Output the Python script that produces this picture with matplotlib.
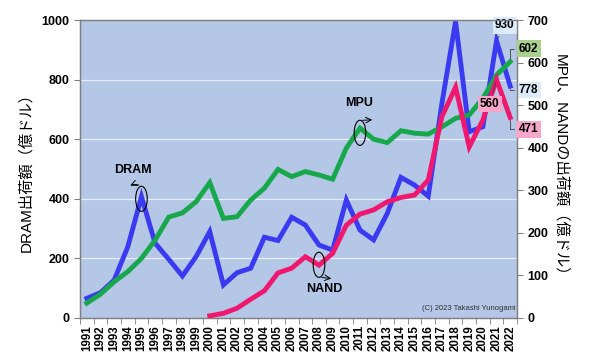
import numpy as np
import matplotlib.pyplot as plt
from matplotlib.patches import Ellipse

plt.rcParams['font.family'] = ['Liberation Sans', 'Noto Sans CJK JP', 'DejaVu Sans']

years = list(range(1991, 2023))

# DRAM (left axis, 億ドル)
dram = [66, 85, 127, 239, 407, 251, 197, 141, 206, 290,
        111, 152, 167, 271, 260, 338, 312, 245, 228, 396,
        295, 262, 351, 472, 446, 409, 720, 995, 625, 642,
        930, 778]

# MPU (right axis)
mpu = [35, 56, 85, 109, 140, 183, 237, 247, 273, 318,
       234, 238, 277, 305, 349, 332, 344, 336, 326, 399,
       446, 420, 412, 440, 434, 432, 449, 469, 477, 516,
       571, 602]

# NAND (right axis), from 2000
nand_years = list(range(2000, 2023))
nand = [5, 11, 23, 44, 64, 106, 117, 144, 124, 152,
        218, 244, 254, 273, 283, 289, 324, 473, 542, 402,
        465, 560, 471]

c_bg = '#b4c7e7'
c_dram = '#3a3af0'
c_mpu = '#18a84c'
c_nand = '#f0186e'

x = np.arange(len(years))
xn = np.array([years.index(y) for y in nand_years])

fig = plt.figure(figsize=(5.9, 3.54), dpi=100)
ax = fig.add_axes([0.1356, 0.1017, 0.7407, 0.8418])
ax.set_facecolor(c_bg)
ax2 = ax.twinx()

ax.plot(x, dram, color=c_dram, lw=3.5, solid_joinstyle='miter', zorder=3)
ax2.plot(x, mpu, color=c_mpu, lw=3.5, solid_joinstyle='miter', zorder=3)
ax2.plot(xn, nand, color=c_nand, lw=3.5, solid_joinstyle='miter', zorder=4)

ax.set_xlim(-0.5, len(years) - 0.5)
ax.set_ylim(0, 1000)
ax2.set_ylim(0, 700)
ax.set_yticks(range(0, 1001, 200))
ax2.set_yticks(range(0, 701, 100))

for v in range(200, 1000, 200):
    ax.axhline(v, color='#e8eef8', lw=0.9, zorder=1)

ax.set_xticks(x)
ax.set_xticklabels([str(y) for y in years], rotation=90, fontsize=8.3, fontweight='bold')
ax.set_xticks(np.arange(-0.5, len(years), 1), minor=True)
ax.tick_params(axis='x', which='major', length=0, pad=5)
ax.tick_params(axis='x', which='minor', length=4, color='#808080')
ax.tick_params(axis='y', length=4, color='#808080', labelsize=9)
ax2.tick_params(axis='y', length=4, color='#808080', labelsize=9)
for lab in ax.get_yticklabels() + ax2.get_yticklabels():
    lab.set_fontweight('bold')

for a in (ax, ax2):
    for s in a.spines.values():
        s.set_color('#808080')
        s.set_linewidth(0.9)

ax.set_ylabel('DRAM出荷額（億ドル）', fontsize=11, labelpad=6)
ax2.set_ylabel('MPU、NANDの出荷額（億ドル）', fontsize=11, rotation=270, labelpad=14)

# value labels
i21 = years.index(2021)
i22 = years.index(2022)
lab_kw = dict(ha='center', va='center', fontsize=8.5, fontweight='bold', zorder=6,
              annotation_clip=False)
ax.annotate('930', xy=(i21, dram[i21]), xytext=(i21 + 0.6, 982),
            bbox=dict(boxstyle='square,pad=0.2', fc='#dcebfa', ec='none'),
            arrowprops=dict(arrowstyle='-', color='#404040', lw=0.6), **lab_kw)
ax.annotate('778', xy=(i22, dram[i22]), xytext=(i22 + 1.35, 765),
            bbox=dict(boxstyle='square,pad=0.2', fc='#dcebfa', ec='none'),
            arrowprops=dict(arrowstyle='-', color='#404040', lw=0.6,
                            connectionstyle='angle,angleA=180,angleB=90'), **lab_kw)
ax2.annotate('602', xy=(i22, mpu[-1]), xytext=(i22 + 1.35, 633),
             bbox=dict(boxstyle='square,pad=0.2', fc='#a9d18e', ec='none'),
             arrowprops=dict(arrowstyle='-', color='#404040', lw=0.6,
                             connectionstyle='angle,angleA=180,angleB=90'), **lab_kw)
ax2.annotate('560', xy=(i21, nand[-2]), xytext=(i21 - 0.5, 503),
             bbox=dict(boxstyle='square,pad=0.2', fc='#f5a6c9', ec='none'),
             arrowprops=dict(arrowstyle='-', color='#404040', lw=0.6), **lab_kw)
ax2.annotate('471', xy=(i22, nand[-1]), xytext=(i22 + 1.35, 443),
             bbox=dict(boxstyle='square,pad=0.2', fc='#f5a6c9', ec='none'),
             arrowprops=dict(arrowstyle='-', color='#404040', lw=0.6,
                             connectionstyle='angle,angleA=180,angleB=90'), **lab_kw)

# series labels with ellipse markers
i95 = years.index(1995)
ax.add_patch(Ellipse((i95, 400), 0.85, 84, fill=False, ec='black', lw=0.8, zorder=5))
ax.annotate('', xy=(i95 - 1.0, 440), xytext=(i95, 442),
            arrowprops=dict(arrowstyle='->', color='black', lw=0.7,
                            connectionstyle='arc3,rad=0.3'))
ax.text(i95 - 0.6, 478, 'DRAM', fontsize=9, fontweight='bold', ha='center', va='bottom')

i11 = years.index(2011)
ax2.add_patch(Ellipse((i11, 435), 0.85, 59, fill=False, ec='black', lw=0.8, zorder=5))
ax2.annotate('', xy=(i11 + 1.1, 466), xytext=(i11, 464),
             arrowprops=dict(arrowstyle='->', color='black', lw=0.7))
ax2.text(i11 - 0.05, 490, 'MPU', fontsize=9, fontweight='bold', ha='center', va='bottom')

i08 = years.index(2008)
ax2.add_patch(Ellipse((i08, 125), 0.85, 59, fill=False, ec='black', lw=0.8, zorder=5))
ax2.annotate('', xy=(i08 + 1.1, 92), xytext=(i08, 96),
             arrowprops=dict(arrowstyle='->', color='black', lw=0.7))
ax2.text(i08 + 0.4, 82, 'NAND', fontsize=9, fontweight='bold', ha='center', va='top')

ax.text(0.997, 0.02, '(C) 2023 Takashi Yunogami', transform=ax.transAxes,
        fontsize=5.5, ha='right', va='bottom', color='#303030')

fig.savefig('out.png', dpi=100)
